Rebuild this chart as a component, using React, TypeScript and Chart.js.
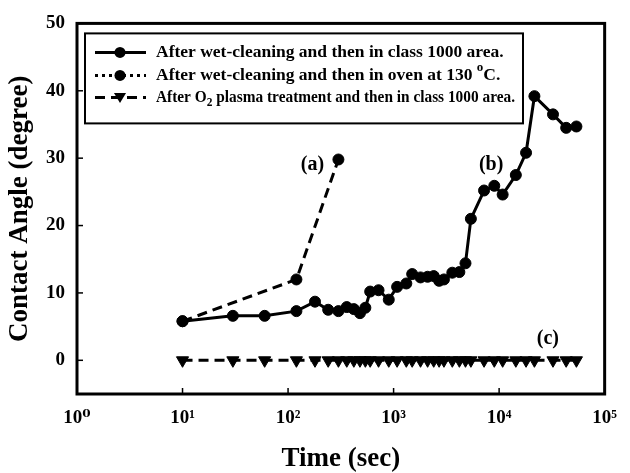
import React, { useEffect, useRef } from "react";
import { Chart, registerables } from "chart.js";

Chart.register(...registerables);

// ---- data ----
const timesB = [10, 30, 60, 120, 180, 240, 300, 360, 420, 480, 540, 600, 720, 900, 1080, 1320, 1500, 1800, 2100, 2400, 2700, 3000, 3600, 4200, 4800, 5400, 7200, 9000, 10800, 14400, 18000, 21600, 32400, 43200, 54000];
const angleB = [5.8, 6.6, 6.6, 7.3, 8.7, 7.5, 7.3, 7.9, 7.6, 7.0, 7.8, 10.2, 10.4, 9.0, 10.9, 11.4, 12.8, 12.3, 12.4, 12.5, 11.8, 12.0, 13.0, 13.1, 14.4, 21.0, 25.2, 25.9, 24.6, 27.5, 30.8, 39.2, 36.5, 34.5, 34.7];

const timesA = [10, 120, 300];
const angleA = [5.8, 12.0, 29.8];

const timesC = [10, 30, 60, 120, 180, 240, 300, 360, 420, 480, 540, 600, 720, 900, 1080, 1320, 1500, 1800, 2100, 2400, 2700, 3000, 3600, 4200, 4800, 5400, 7200, 9000, 10800, 14400, 18000, 21600, 32400, 43200, 54000];
const angleC = [0, 0, 0, 0, 0, 0, 0, 0, 0, 0, 0, 0, 0, 0, 0, 0, 0, 0, 0, 0, 0, 0, 0, 0, 0, 0, 0, 0, 0, 0, 0, 0, 0, 0, 0];

const xTickValues = [1, 10, 100, 1000, 10000, 100000];
const xTickLabels = ["10\u2070", "10\u00B9", "10\u00B2", "10\u00B3", "10\u2074", "10\u2075"];
const yTickValues = [0, 10, 20, 30, 40, 50];

const xTitle = "Time (sec)";
const yTitle = "Contact Angle (degree)";

// legend rows: segments [text, mode] mode: 0 normal, 1 superscript, -1 subscript
const legendRows: [string, number][][] = [
  [["After wet-cleaning and then in class 1000 area.", 0]],
  [["After wet-cleaning and then in oven at 130 ", 0], ["o", 1], ["C.", 0]],
  [["After O", 0], ["2", -1], [" plasma treatment and then in class 1000 area.", 0]],
];

const annotLabels = ["(a)", "(b)", "(c)"];
const annotX = [170, 8400, 29000];
const annotY = [29, 29, 3.2];

const FONT = '"Liberation Serif", "Times New Roman", "DejaVu Serif", serif';

function drawMarker(ctx: CanvasRenderingContext2D, style: string, x: number, y: number, r: number) {
  ctx.beginPath();
  if (style === "circle") {
    ctx.arc(x, y, r, 0, Math.PI * 2);
  } else {
    ctx.moveTo(x - r * 1.1, y - r * 0.8);
    ctx.lineTo(x + r * 1.1, y - r * 0.8);
    ctx.lineTo(x, y + r * 1.0);
    ctx.closePath();
  }
  ctx.fill();
}

const framePlugin = {
  id: "frameAndExtras",
  afterDraw(chart: any) {
    const { ctx, chartArea: ca, scales } = chart;
    ctx.save();
    ctx.strokeStyle = "#000";
    ctx.fillStyle = "#000";
    ctx.setLineDash([]);
    // inward ticks
    ctx.lineWidth = 1.5;
    scales.x.ticks.forEach((t: any) => {
      const x = scales.x.getPixelForValue(t.value);
      ctx.beginPath();
      ctx.moveTo(x, ca.bottom);
      ctx.lineTo(x, ca.bottom - 6);
      ctx.stroke();
    });
    scales.y.ticks.forEach((t: any) => {
      const y = scales.y.getPixelForValue(t.value);
      ctx.beginPath();
      ctx.moveTo(ca.left, y);
      ctx.lineTo(ca.left + 6, y);
      ctx.stroke();
    });
    // frame
    ctx.lineWidth = 3;
    ctx.strokeRect(ca.left, ca.top, ca.right - ca.left, ca.bottom - ca.top);

    // annotations
    ctx.font = `bold 20px ${FONT}`;
    ctx.textAlign = "center";
    ctx.textBaseline = "middle";
    annotLabels.forEach((lab, i) => {
      ctx.fillText(lab, scales.x.getPixelForValue(annotX[i]), scales.y.getPixelForValue(annotY[i]));
    });

    // legend
    const bx = ca.left + 8;
    const by = ca.top + 10;
    const bw = 438;
    const bh = 90;
    ctx.fillStyle = "#fff";
    ctx.fillRect(bx, by, bw, bh);
    ctx.fillStyle = "#000";
    ctx.lineWidth = 2;
    ctx.strokeRect(bx, by, bw, bh);
    const rowY = [by + 19, by + 42, by + 64];
    const dashes = [[], [3, 4], [10, 6]];
    const styles = ["circle", "circle", "triangle"];
    const fontFor = (mode: number) => `bold ${mode === 0 ? 17.5 : 13}px ${FONT}`;
    rowY.forEach((ry, i) => {
      ctx.lineWidth = 3;
      ctx.setLineDash(dashes[i]);
      ctx.beginPath();
      ctx.moveTo(bx + 10, ry);
      ctx.lineTo(bx + 61, ry);
      ctx.stroke();
      ctx.setLineDash([]);
      drawMarker(ctx, styles[i], bx + 35, ry, 5.5);
      // text (compressed horizontally if it would overflow the box)
      const tx0 = bx + 71;
      let total = 0;
      legendRows[i].forEach(([txt, mode]) => {
        ctx.font = fontFor(mode);
        total += ctx.measureText(txt).width;
      });
      const maxW = bw - 71 - 8;
      const sx = total > maxW ? maxW / total : 1;
      ctx.save();
      ctx.translate(tx0, ry);
      ctx.scale(sx, 1);
      let tx = 0;
      ctx.textAlign = "left";
      ctx.textBaseline = "middle";
      legendRows[i].forEach(([txt, mode]) => {
        ctx.font = fontFor(mode);
        const dy = mode === 1 ? -8 : mode === -1 ? 5 : 0;
        ctx.fillText(txt, tx, dy);
        tx += ctx.measureText(txt).width;
      });
      ctx.restore();
    });
    ctx.restore();
  },
};

export default function App() {
  const ref = useRef<HTMLCanvasElement | null>(null);
  useEffect(() => {
    if (!ref.current) return;
    const mk = (ts: number[], vs: number[]) => ts.map((t, i) => ({ x: t, y: vs[i] }));
    const chart = new Chart(ref.current, {
      type: "line",
      data: {
        datasets: [
          {
            label: "After wet-cleaning and then in class 1000 area.",
            data: mk(timesB, angleB),
            borderColor: "#000",
            backgroundColor: "#000",
            borderWidth: 3,
            pointStyle: "circle",
            pointRadius: 5.5,
            pointBorderWidth: 1,
            pointBackgroundColor: "#000",
            pointBorderColor: "#000",
            tension: 0,
          },
          {
            label: "After wet-cleaning and then in oven at 130 °C.",
            data: mk(timesA, angleA),
            borderColor: "#000",
            backgroundColor: "#000",
            borderWidth: 3,
            borderDash: [10, 6],
            pointStyle: "circle",
            pointRadius: 5.5,
            pointBorderWidth: 1,
            pointBackgroundColor: "#000",
            pointBorderColor: "#000",
            tension: 0,
          },
          {
            label: "After O2 plasma treatment and then in class 1000 area.",
            data: mk(timesC, angleC),
            borderColor: "#000",
            backgroundColor: "#000",
            borderWidth: 3,
            borderDash: [10, 6],
            pointStyle: "triangle",
            pointRotation: 180,
            pointRadius: 7,
            pointBorderWidth: 1,
            pointBackgroundColor: "#000",
            pointBorderColor: "#000",
            tension: 0,
          },
        ],
      },
      options: {
        animation: false,
        responsive: true,
        maintainAspectRatio: false,
        layout: { padding: { top: 12, right: 23, left: 0, bottom: 0 } },
        plugins: { legend: { display: false }, tooltip: { enabled: false } },
        scales: {
          x: {
            type: "logarithmic",
            min: 1,
            max: 100000,
            afterBuildTicks: (s: any) => {
              s.ticks = xTickValues.map((v) => ({ value: v }));
            },
            afterFit: (s: any) => {
              s.height = 79;
            },
            grid: { display: false, drawTicks: false },
            border: { display: false },
            ticks: {
              autoSkip: false,
              maxRotation: 0,
              padding: 13,
              color: "#000",
              font: { family: FONT, size: 19, weight: "bold" },
              callback: (_v: any, i: number) => xTickLabels[i],
            },
            title: {
              display: true,
              text: xTitle,
              color: "#000",
              font: { family: FONT, size: 27, weight: "bold", lineHeight: 1 },
              padding: { top: 0, bottom: 0 },
            },
          },
          y: {
            type: "linear",
            min: -5,
            max: 50,
            afterBuildTicks: (s: any) => {
              s.ticks = yTickValues.map((v) => ({ value: v }));
            },
            afterFit: (s: any) => {
              s.width = 77;
            },
            grid: { display: false, drawTicks: false },
            border: { display: false },
            ticks: {
              padding: 12,
              color: "#000",
              font: { family: FONT, size: 19, weight: "bold" },
              callback: (v: any) => String(v),
            },
            title: {
              display: true,
              text: yTitle,
              color: "#000",
              font: { family: FONT, size: 27, weight: "bold", lineHeight: 1 },
              padding: { top: 7, bottom: 0 },
            },
          },
        },
      },
      plugins: [framePlugin],
    } as any);
    return () => chart.destroy();
  }, []);
  return (
    <div style={{ position: "fixed", left: 0, top: 0, width: 630, height: 473, background: "#fff" }}>
      <canvas ref={ref} />
    </div>
  );
}
